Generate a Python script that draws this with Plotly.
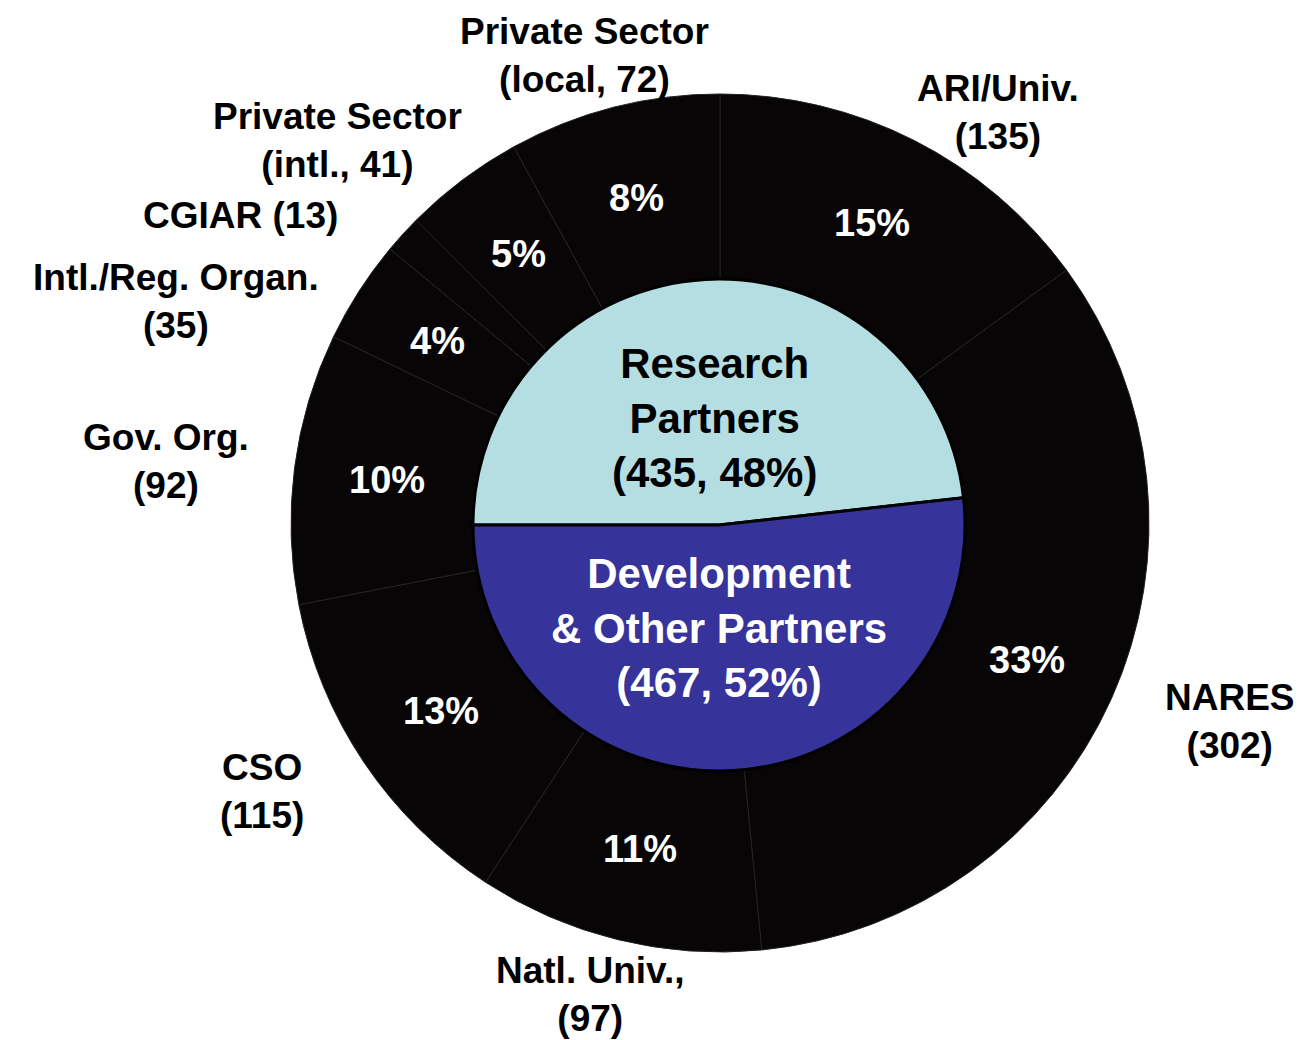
import math
import plotly.graph_objects as go

# ---- data ----
outer_names = ["ARI/Univ.", "NARES", "Natl. Univ.,", "CSO", "Gov. Org.",
               "Intl./Reg. Organ.", "CGIAR", "Private Sector", "Private Sector"]
outer_qualifiers = ["", "", "", "", "", "", "", "intl.", "local"]
outer_values = [135, 302, 97, 115, 92, 35, 13, 41, 72]

inner_names = ["Research<br>Partners", "Development<br>& Other Partners"]
inner_values = [435, 467]

# ---- styling / layout constants ----
# the page body has an 8px margin, so the figure is drawn 8px in from the corner
OFF = 8
W, H = 1305 - OFF, 1040 - OFF
FONT = "Liberation Sans, Arial, sans-serif"
RING_COLOR = "#070505"
INNER_COLORS = ["#b5dee2", "#36339b"]
INNER_TEXT_COLORS = ["#000000", "#ffffff"]

CX, CY, R_OUT, R_IN = 720, 523, 429, 246   # page pixels
R_TEXT = 336


def px(x, y):
    """page pixel -> paper coords"""
    return (x - OFF) / W, 1 - (y - OFF) / H


def px_dom(cx, cy, r):
    x0, y1 = px(cx - r, cy - r)
    x1, y0 = px(cx + r, cy + r)
    return dict(x=[x0, x1], y=[y0, y1])


fig = go.Figure()
fig.add_trace(go.Pie(
    labels=[f"{n} {q}".strip() for n, q in zip(outer_names, outer_qualifiers)],
    values=outer_values,
    sort=False, direction="clockwise", rotation=0,
    hole=0.55,
    domain=px_dom(CX, CY, R_OUT),
    marker=dict(colors=[RING_COLOR] * len(outer_values),
                line=dict(color="#222222", width=1)),
    textinfo="none",
    showlegend=False,
))
fig.add_trace(go.Pie(
    labels=[n.replace("<br>", " ") for n in inner_names],
    values=inner_values,
    sort=False, direction="clockwise", rotation=270,
    domain=px_dom(CX - 1, CY + 2, R_IN),
    marker=dict(colors=INNER_COLORS, line=dict(color="black", width=3)),
    textinfo="none",
    showlegend=False,
))

annotations = []

# percentage labels inside the ring, at each slice's mid-angle
total = sum(outer_values)
cum = 0
for v in outer_values:
    mid = (cum + v / 2) / total * 2 * math.pi
    cum += v
    if v / total < 0.02:
        continue
    x = CX + R_TEXT * math.sin(mid)
    y = CY - R_TEXT * math.cos(mid)
    xp, yp = px(x, y)
    annotations.append(dict(
        x=xp, y=yp, xref="paper", yref="paper",
        text=f"{round(100 * v / total)}%", showarrow=False,
        xanchor="center", yanchor="middle",
        font=dict(family=FONT, size=38, color="white", weight="bold"),
    ))

# outer labels (outside the ring)
label_pos = [(998, 113), (1230, 721), (590, 994), (262, 791), (166, 461),
             (176, 301), (240, 215), (338, 140), (584, 56)]
for n, q, v, (x, y) in zip(outer_names, outer_qualifiers, outer_values, label_pos):
    if q:
        txt = f"{n}<br>({q}, {v})"
    elif n == "CGIAR":
        txt = f"{n} ({v})"
    else:
        txt = f"{n}<br>({v})"
    xp, yp = px(x, y)
    annotations.append(dict(
        x=xp, y=yp, xref="paper", yref="paper",
        text=txt, showarrow=False, xanchor="center", yanchor="middle",
        borderpad=0,
        font=dict(family=FONT, size=37, color="black", weight="bold"),
    ))

# inner labels
inner_total = sum(inner_values)
inner_pos = [(714, 418), (719, 628)]
for n, v, c, (x, y) in zip(inner_names, inner_values, INNER_TEXT_COLORS, inner_pos):
    xp, yp = px(x, y)
    annotations.append(dict(
        x=xp, y=yp, xref="paper", yref="paper",
        text=f"{n}<br>({v}, {round(100 * v / inner_total)}%)",
        showarrow=False, xanchor="center", yanchor="middle",
        font=dict(family=FONT, size=42, color=c, weight="bold"),
    ))

fig.update_layout(
    width=W, height=H,
    margin=dict(l=0, r=0, t=0, b=0),
    paper_bgcolor="white", plot_bgcolor="white",
    annotations=annotations,
)

fig.write_html("out.html")
